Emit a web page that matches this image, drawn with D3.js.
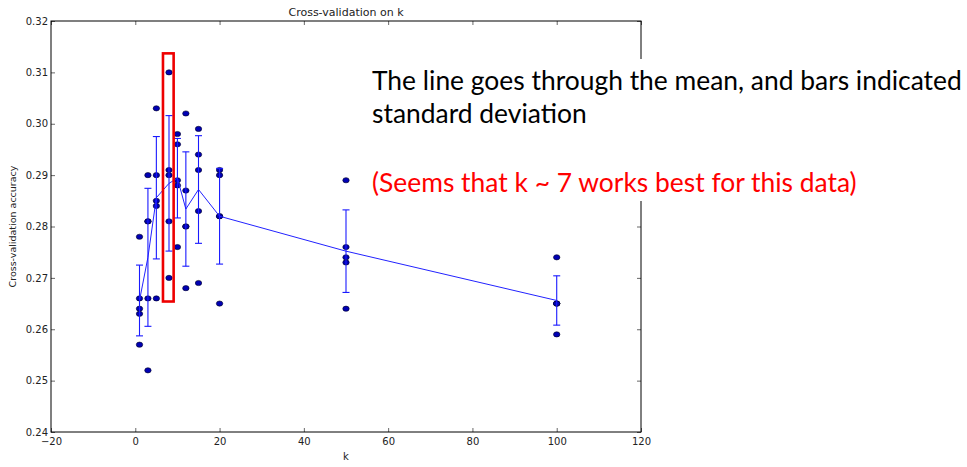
<!DOCTYPE html>
<html>
<head>
<meta charset="utf-8">
<script src="https://cdn.jsdelivr.net/npm/d3@7"></script>
<style>
  html, body { margin: 0; padding: 0; background: #fff; }
  svg { display: block; }
</style>
</head>
<body>
<svg id="chart" width="967" height="467"></svg>
<script>
// ---- data ----
const kChoices = [1, 3, 5, 8, 10, 12, 15, 20, 50, 100];
const foldAccuracies = [
  [0.278, 0.266, 0.264, 0.263, 0.257],
  [0.290, 0.281, 0.281, 0.266, 0.252],
  [0.303, 0.290, 0.285, 0.284, 0.266],
  [0.310, 0.291, 0.290, 0.281, 0.270],
  [0.298, 0.296, 0.289, 0.288, 0.276],
  [0.302, 0.287, 0.280, 0.280, 0.268],
  [0.299, 0.294, 0.291, 0.283, 0.269],
  [0.291, 0.290, 0.282, 0.282, 0.265],
  [0.289, 0.276, 0.274, 0.273, 0.264],
  [0.274, 0.265, 0.265, 0.265, 0.259]
];
const xTicks = [-20, 0, 20, 40, 60, 80, 100, 120];
const yTicks = [0.24, 0.25, 0.26, 0.27, 0.28, 0.29, 0.30, 0.31, 0.32];
const titleText = "Cross-validation on k";
const xLabel = "k";
const yLabel = "Cross-validation accuracy";
const noteLines = ["The line goes through the mean, and bars indicated", "standard deviation"];
const noteRed = "(Seems that k ~ 7 works best for this data)";
const highlightK = [6.57, 9.1];
const highlightAcc = [0.2654, 0.3137];

// ---- derived stats ----
const stats = kChoices.map((k, i) => {
  const v = foldAccuracies[i];
  const m = d3.mean(v);
  const sd = Math.sqrt(d3.mean(v, a => (a - m) * (a - m)));
  return { k, mean: m, std: sd };
});

const svg = d3.select("#chart");
const x = d3.scaleLinear().domain([-20, 120]).range([51, 641]);
const y = d3.scaleLinear().domain([0.24, 0.32]).range([432, 21]);

const fontAx = "'DejaVu Sans', sans-serif";

// axes
const gx = svg.append("g").attr("transform", `translate(0,${y(0.24)})`)
  .call(d3.axisBottom(x).tickValues(xTicks).tickSizeInner(-4).tickSizeOuter(0).tickPadding(6)
    .tickFormat(d => d < 0 ? "\u2212" + Math.abs(d) : d));
const gxt = svg.append("g").attr("transform", `translate(0,${y(0.32)})`)
  .call(d3.axisTop(x).tickValues(xTicks).tickSizeInner(-4).tickSizeOuter(0).tickFormat(""));
const gy = svg.append("g").attr("transform", `translate(${x(-20)},0)`)
  .call(d3.axisLeft(y).tickValues(yTicks).tickSizeInner(-4).tickSizeOuter(0).tickPadding(3)
    .tickFormat(d3.format(".2f")));
const gyr = svg.append("g").attr("transform", `translate(${x(120)},0)`)
  .call(d3.axisRight(y).tickValues(yTicks).tickSizeInner(-4).tickSizeOuter(0).tickFormat(""));

[gx, gxt, gy, gyr].forEach(g => {
  g.select(".domain").remove();
  g.selectAll(".tick line").attr("stroke", "#000").attr("stroke-width", 0.6);
  g.selectAll(".tick text").attr("font-family", fontAx).attr("font-size", 10).attr("fill", "#222");
});

// frame
svg.append("rect")
  .attr("x", x(-20)).attr("y", y(0.32))
  .attr("width", x(120) - x(-20)).attr("height", y(0.24) - y(0.32))
  .attr("fill", "none").attr("stroke", "#000").attr("stroke-width", 1);

// title & labels
svg.append("text").attr("x", (x(-20) + x(120)) / 2).attr("y", 16)
  .attr("text-anchor", "middle").attr("font-family", fontAx).attr("font-size", 11)
  .attr("fill", "#222").text(titleText);
svg.append("text").attr("x", (x(-20) + x(120)) / 2).attr("y", 460)
  .attr("text-anchor", "middle").attr("font-family", fontAx).attr("font-size", 10)
  .attr("fill", "#222").text(xLabel);
svg.append("text").attr("transform", `translate(16,${(y(0.24) + y(0.32)) / 2}) rotate(-90)`)
  .attr("text-anchor", "middle").attr("font-family", fontAx).attr("font-size", 9.5)
  .attr("fill", "#222").text(yLabel);

// scatter points
const pts = [];
kChoices.forEach((k, i) => foldAccuracies[i].forEach(a => pts.push({ k, a })));
svg.append("g").selectAll("ellipse").data(pts).join("ellipse")
  .attr("cx", d => x(d.k)).attr("cy", d => y(d.a))
  .attr("rx", 3.2).attr("ry", 2.6)
  .attr("fill", "#0000b4").attr("stroke", "#000022").attr("stroke-width", 0.6);

// mean line
svg.append("path").datum(stats)
  .attr("d", d3.line().x(d => x(d.k)).y(d => y(d.mean)))
  .attr("fill", "none").attr("stroke", "#2222ff").attr("stroke-width", 1);

// error bars
const eb = svg.append("g").attr("stroke", "#1a1aff").attr("stroke-width", 1.1);
eb.selectAll("line.v").data(stats).join("line").attr("class", "v")
  .attr("x1", d => x(d.k)).attr("x2", d => x(d.k))
  .attr("y1", d => y(d.mean - d.std)).attr("y2", d => y(d.mean + d.std));
eb.selectAll("line.t").data(stats).join("line").attr("class", "t")
  .attr("x1", d => x(d.k) - 3.5).attr("x2", d => x(d.k) + 3.5)
  .attr("y1", d => y(d.mean + d.std)).attr("y2", d => y(d.mean + d.std));
eb.selectAll("line.b").data(stats).join("line").attr("class", "b")
  .attr("x1", d => x(d.k) - 3.5).attr("x2", d => x(d.k) + 3.5)
  .attr("y1", d => y(d.mean - d.std)).attr("y2", d => y(d.mean - d.std));

// highlight box
svg.append("rect")
  .attr("x", x(highlightK[0])).attr("y", y(highlightAcc[1]))
  .attr("width", x(highlightK[1]) - x(highlightK[0]))
  .attr("height", y(highlightAcc[0]) - y(highlightAcc[1]))
  .attr("fill", "none").attr("stroke", "#ee0000").attr("stroke-width", 2.6);

// note box
svg.append("rect").attr("x", 362).attr("y", 59).attr("width", 605).attr("height", 142).attr("fill", "#fff");
const noteFont = "Lato, 'Open Sans', sans-serif";
const t1 = svg.append("text").attr("x", 372).attr("y", 90).attr("font-family", noteFont)
  .attr("font-size", 23).attr("fill", "#000").text(noteLines[0]);
const w = t1.node().getComputedTextLength();
const fs = 23 * 590 / w;
t1.attr("font-size", fs);
svg.append("text").attr("x", 372).attr("y", 123).attr("font-family", noteFont)
  .attr("font-size", fs).attr("fill", "#000").text(noteLines[1]);
svg.append("text").attr("x", 372).attr("y", 192).attr("font-family", noteFont)
  .attr("font-size", fs).attr("fill", "#ff0000").text(noteRed);
</script>
</body>
</html>
